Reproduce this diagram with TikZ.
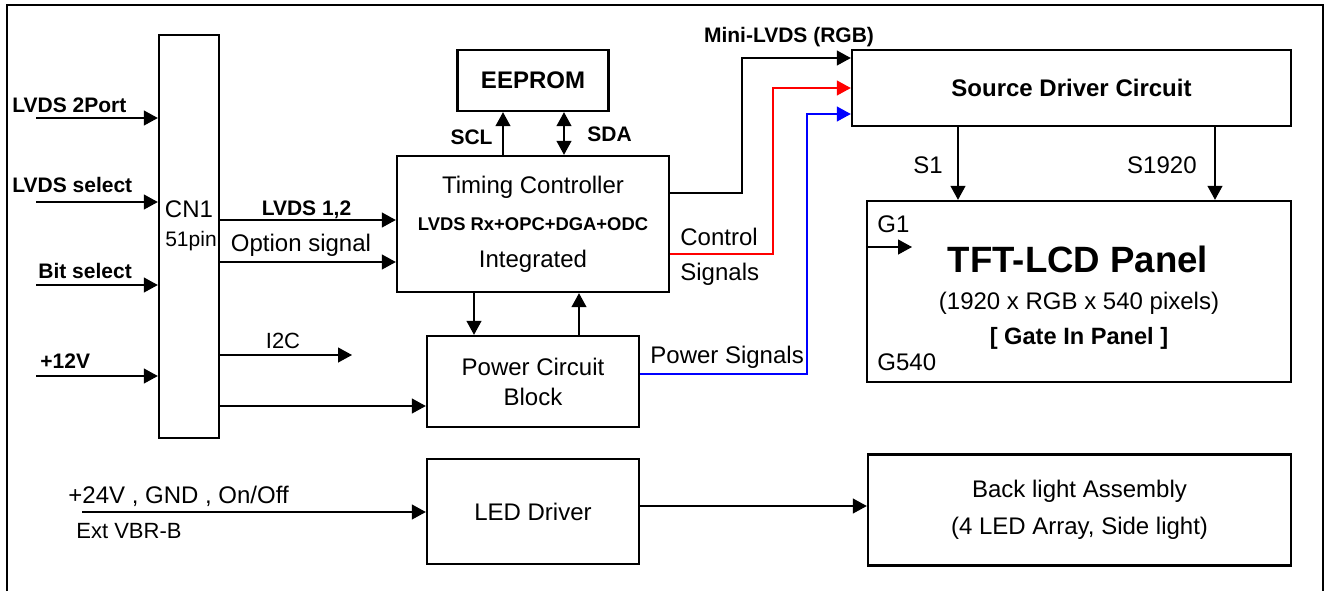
\documentclass[tikz,border=0pt]{standalone}
\usepackage{fontspec}
\setmainfont{Liberation Sans}
\usetikzlibrary{positioning,arrows.meta}
\tikzset{
  >={Triangle[length=7pt,width=7.5pt]},
  sigarrow/.style={->,line width=0.6pt},
  blockbox/.style={rectangle,draw,line width=1.2pt,align=center,inner sep=0pt,font=\fontsize{12}{15}\selectfont},
  plainlbl/.style={inner sep=0pt,font=\fontsize{12}{14}\selectfont},
  boldlbl/.style={inner sep=0pt,font=\bfseries\fontsize{10.5}{12}\selectfont},
  frameline/.style={line width=1.2pt}
}
\begin{document}
\begin{tikzpicture}[x=0.5pt,y=-0.5pt,node distance=10pt,on grid]
    \useasboundingbox (0,0) rectangle (1329,591);
    \draw[frameline] (7,591) -- (7,5) -- (1323,5) -- (1323,591);

    % blocks
    \node[blockbox,minimum width=30pt,minimum height=201.5pt] (cn1) at (189,236.5) {};
    \node[blockbox,minimum width=136pt,minimum height=68pt,font=\fontsize{12}{18.5}\selectfont] (tcon) at (533,224)
        {Timing Controller\\{\bfseries\fontsize{9.2}{18.5}\selectfont LVDS Rx+OPC+DGA+ODC}\\Integrated};
    \node[blockbox,above=71.75pt of tcon,minimum width=75.5pt,minimum height=30.5pt,font=\bfseries\fontsize{12}{14}\selectfont] (eeprom) {EEPROM};
    \node[blockbox,below=78.75pt of tcon,minimum width=106pt,minimum height=45.5pt] (pwr) {Power Circuit\\Block};
    \node[blockbox,below=65pt of pwr,minimum width=106pt,minimum height=52.5pt] (led) {LED Driver};
    \node[blockbox,minimum width=219.5pt,minimum height=38pt,font=\bfseries\fontsize{12}{14}\selectfont] (src) at (1071.5,88) {Source Driver Circuit};
    \node[blockbox,minimum width=212pt,minimum height=90.5pt] (tft) at (1079,291.5) {};
    \node[blockbox,minimum width=211.5pt,minimum height=55.5pt,font=\fontsize{12}{18.5}\selectfont] (blu) at (1079.5,510)
        {Back light Assembly\\(4 LED Array, Side light)};

    % texts
    \node[plainlbl,anchor=base] (cn1txt) at (189,217) {CN1};
    \node[plainlbl,anchor=base,font=\fontsize{10.5}{12}\selectfont] (cn1pin) at (191,246) {51pin};
    \node[boldlbl,anchor=base west] (l2port) at (12,112) {LVDS 2Port};
    \node[boldlbl,anchor=base west] (lsel) at (12,192) {LVDS select};
    \node[boldlbl,anchor=base west] (lbit) at (38,278) {Bit select};
    \node[boldlbl,anchor=base west] (l12v) at (40,368) {+12V};
    \node[boldlbl,anchor=base] (llvds) at (306.5,215) {LVDS 1,2};
    \node[plainlbl,anchor=base] (lopt) at (301,251) {Option signal};
    \node[plainlbl,anchor=base,font=\fontsize{11}{13}\selectfont] (li2c) at (283,348) {I2C};
    \node[boldlbl,anchor=base] (lscl) at (471.5,144) {SCL};
    \node[boldlbl,anchor=base] (lsda) at (609.5,141) {SDA};
    \node[boldlbl,anchor=base] (lmini) at (789,42) {Mini-LVDS (RGB)};
    \node[plainlbl,anchor=base west] (lctrl) at (680,245) {Control};
    \node[plainlbl,anchor=base west] (lctrl2) at (680,280) {Signals};
    \node[plainlbl,anchor=base west] (lpwrsig) at (650,363) {Power Signals};
    \node[plainlbl,anchor=base east] (ls1) at (943,173) {S1};
    \node[plainlbl,anchor=base east] (ls1920) at (1197,173) {S1920};
    \node[plainlbl,anchor=base west] (lg1) at (877,232) {G1};
    \node[plainlbl,anchor=base west] (lg540) at (877,370) {G540};
    \node[inner sep=0pt,anchor=base,font=\bfseries\fontsize{18.3}{20}\selectfont] (tfttitle) at (1078,272) {TFT-LCD Panel};
    \node[plainlbl,anchor=base] (tftres) at (1079,309) {(1920 x RGB x 540 pixels)};
    \node[plainlbl,anchor=base,font=\bfseries\fontsize{11.8}{14}\selectfont] (tftgip) at (1079,344) {[ Gate In Panel ]};
    \node[plainlbl,anchor=base west] (l24v) at (68,503) {+24V , GND , On/Off};
    \node[plainlbl,anchor=base west,font=\fontsize{11}{13}\selectfont] (lext) at (76,538) {Ext VBR-B};

    % inputs
    \coordinate (i2port) at (36,118);
    \coordinate (isel) at (36,202);
    \coordinate (ibit) at (36,285);
    \coordinate (i12v) at (36,376);
    \coordinate (ledin) at (82,512);
    \foreach \p in {i2port,isel,ibit,i12v}
        \draw[sigarrow] (\p) -- (\p -| cn1.west);
    \draw[sigarrow] (ledin) -- (led.west |- ledin);

    % connectors
    \coordinate (i2cend) at (352,355);
    \coordinate (g1end) at (912,247);
    \draw[sigarrow] (cn1.east |- 0,220) -- (tcon.west |- 0,220);
    \draw[sigarrow] (cn1.east |- 0,262) -- (tcon.west |- 0,262);
    \draw[sigarrow] (cn1.east |- i2cend) -- (i2cend);
    \draw[sigarrow] (cn1.east |- 0,406) -- (pwr.west |- 0,406);
    \draw[sigarrow] (tcon.south -| 474,0) -- (pwr.north -| 474,0);
    \draw[sigarrow] (pwr.north -| 579,0) -- (tcon.south -| 579,0);
    \draw[sigarrow] (tcon.north -| 503,0) -- (eeprom.south -| 503,0);
    \draw[sigarrow,<->] (tcon.north -| 564,0) -- (eeprom.south -| 564,0);
    \draw[sigarrow] (tcon.east |- 0,193) -| (742,58) -- (src.west |- 0,58);
    \draw[sigarrow,red] (tcon.east |- 0,254) -| (773,88) -- (src.west |- 0,88);
    \draw[sigarrow,blue] (pwr.east |- 0,374) -| (807,114) -- (src.west |- 0,114);
    \draw[sigarrow] (src.south -| 958,0) -- (tft.north -| 958,0);
    \draw[sigarrow] (src.south -| 1215,0) -- (tft.north -| 1215,0);
    \draw[sigarrow] (tft.west |- g1end) -- (g1end);
    \draw[sigarrow] (led.east |- 0,506) -- (blu.west |- 0,506);
\end{tikzpicture}
\end{document}
